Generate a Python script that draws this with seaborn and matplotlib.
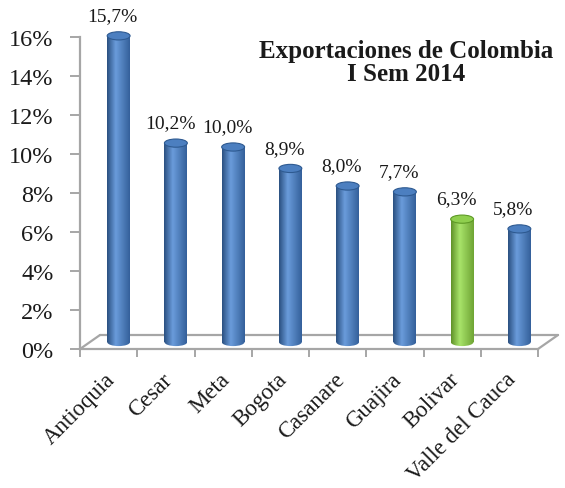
import numpy as np
import pandas as pd
import matplotlib
matplotlib.use("Agg")
import matplotlib.pyplot as plt
import seaborn as sns
from matplotlib.transforms import ScaledTranslation, IdentityTransform
from matplotlib.patches import Ellipse
from matplotlib.lines import Line2D
from matplotlib.colors import LinearSegmentedColormap

# ---- data ----
categories = ["Antioquia", "Cesar", "Meta", "Bogota", "Casanare", "Guajira",
              "Bolivar", "Valle del Cauca"]
shares = [15.7, 10.2, 10.0, 8.9, 8.0, 7.7, 6.3, 5.8]
bar_colors = ["#4F81BD", "#4F81BD", "#4F81BD", "#4F81BD", "#4F81BD", "#4F81BD",
              "#92D050", "#4F81BD"]
y_ticks = [0, 2, 4, 6, 8, 10, 12, 14, 16]
title_lines = ["Exportaciones de Colombia", "I Sem 2014"]

# shading per base colour: (dark edge, light, dark edge, cap face, cap edge)
shade = {
    "#4F81BD": ("#2A4F80", "#6A9CDB", "#34609A", "#4C7FC0", "#2E5A91"),
    "#92D050": ("#5F9128", "#A8E46A", "#6FA434", "#8FCF4E", "#5E9A26"),
}

sns.set_theme(style="white")
plt.rcParams["font.family"] = ["Liberation Serif", "DejaVu Serif"]

DPI = 100
fig = plt.figure(figsize=(5.65, 4.89), dpi=DPI)
W, H = 565, 489
ax = fig.add_axes([80 / W, 1 - 350 / H, (538 - 80) / W, (350 - 38) / H])

df = pd.DataFrame({"cat": categories, "val": shares})
sns.barplot(data=df, x="cat", y="val", hue="cat", palette=bar_colors,
            width=0.4, legend=False, ax=ax, saturation=1)

ax.set_xlim(-0.5, len(categories) - 0.5)
ax.set_ylim(0, 16)

bar_shift = ax.transData + ScaledTranslation(10 / DPI, 7 / DPI, fig.dpi_scale_trans)
ell_h = 0.42
gradient = np.linspace(0, 1, 128).reshape(1, -1)

for patch, col in zip(ax.patches, bar_colors):
    d1, lt, d2, capf, cape = shade[col]
    cmap = LinearSegmentedColormap.from_list("cyl", [(0, d1), (0.38, lt), (1, d2)])
    patch.set_transform(bar_shift)
    patch.set_facecolor(lt)
    patch.set_edgecolor("none")
    x0 = patch.get_x()
    w = patch.get_width()
    h = patch.get_height()
    xc = x0 + w / 2
    im = ax.imshow(gradient, extent=[x0, x0 + w, 0, h], aspect="auto", cmap=cmap,
                   transform=bar_shift, zorder=3, interpolation="bilinear")
    im.set_clip_path(patch)
    bottom = Ellipse((xc, 0), w, ell_h, transform=bar_shift, facecolor="none",
                     edgecolor="none", zorder=3)
    ax.add_patch(bottom)
    im2 = ax.imshow(gradient, extent=[x0, x0 + w, -ell_h, ell_h], aspect="auto",
                    cmap=cmap, transform=bar_shift, zorder=3, interpolation="bilinear")
    im2.set_clip_path(bottom)
    cap = Ellipse((xc, h), w, ell_h, transform=bar_shift, facecolor=capf,
                  edgecolor=cape, linewidth=0.8, zorder=4, clip_on=False)
    ax.add_patch(cap)
    patch.set_zorder(2)
    patch.set_clip_on(False)

ax.set_xlim(-0.5, len(categories) - 0.5)
ax.set_ylim(0, 16)
ax.set_aspect("auto")

# labels on top of bars
for i, v in enumerate(shares):
    ax.annotate(f"{v:.1f}%".replace(".", ","), (i, v), xytext=(3, 19.5),
                textcoords="offset points", ha="center", va="center",
                fontsize=14, color="#1a1a1a", annotation_clip=False)

# axes styling
axis_gray = "#A6A6A6"
for s in ["top", "right"]:
    ax.spines[s].set_visible(False)
for s in ["left", "bottom"]:
    ax.spines[s].set_color(axis_gray)
    ax.spines[s].set_linewidth(1.6)
ax.set_xlabel("")
ax.set_ylabel("")
ax.set_yticks(y_ticks)
ax.set_yticklabels([f"{t}%" for t in y_ticks], fontsize=17.5, color="#1a1a1a")
ax.tick_params(axis="y", which="major", direction="out", length=7, width=1.4,
               color=axis_gray, pad=12, left=True)
ax.set_xticks(range(len(categories)))
ax.set_xticklabels(categories, fontsize=16.5, color="#1a1a1a", rotation=45,
                   ha="right", rotation_mode="anchor")
ax.set_xticks(np.arange(-0.5, len(categories), 1), minor=True)
ax.tick_params(axis="x", which="major", length=0, pad=14, bottom=True)
ax.tick_params(axis="x", which="minor", direction="out", length=6, width=1.4,
               color=axis_gray, bottom=True)
for lab in ax.get_xticklabels():
    lab.set_transform(lab.get_transform() + ScaledTranslation(-4 / DPI, 0, fig.dpi_scale_trans))
ax.grid(False)
ax.patch.set_alpha(0)

# 3D floor outline
fig.canvas.draw()
fl = ax.transData.transform((-0.5, 0))
fr = ax.transData.transform((len(categories) - 0.5, 0))
dx, dy = 20, 14
floor_segments = [
    ([fl[0], fl[0] + dx], [fl[1], fl[1] + dy]),
    ([fl[0] + dx, fr[0] + dx], [fl[1] + dy, fr[1] + dy]),
    ([fr[0], fr[0] + dx], [fr[1], fr[1] + dy]),
]
for xs, ys in floor_segments:
    ax.add_line(Line2D(xs, ys, transform=IdentityTransform(), color=axis_gray,
                       linewidth=1.6, clip_on=False, zorder=1))

# title
fig.text(406 / W, 1 - 63 / H, "\n".join(title_lines), ha="center", va="center",
         fontsize=18, fontweight="bold", color="#1a1a1a", linespacing=1.0)

fig.savefig("out.png", dpi=DPI)
